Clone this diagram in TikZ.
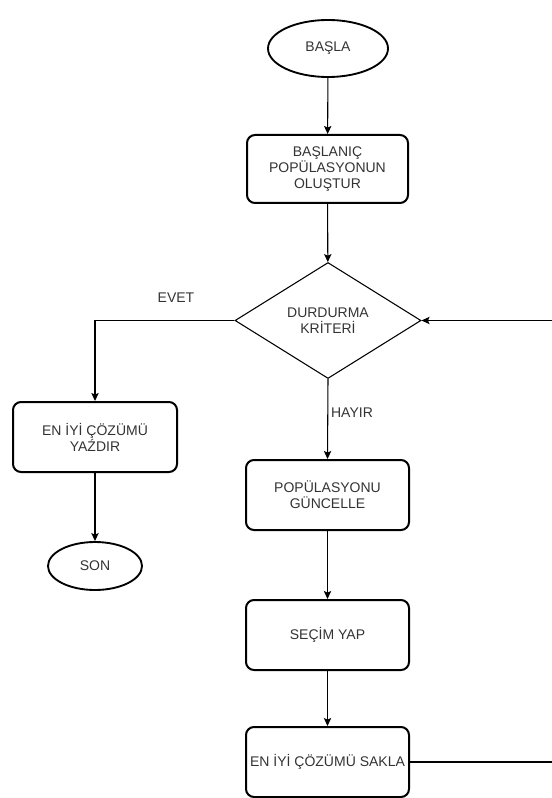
\documentclass[tikz,border=0pt]{standalone}
\usepackage{fontspec}
\setmainfont{Liberation Sans}
\usetikzlibrary{shapes.geometric,arrows.meta}
\definecolor{ink}{HTML}{333333}
\begin{document}
\begin{tikzpicture}[x=0.75pt,y=-0.75pt,
  every node/.style={font=\fontsize{10.5}{12}\selectfont, text=ink, align=center, inner sep=0pt},
  procbox/.style={draw=black, line width=1.5pt, rounded corners=6pt,
    minimum width=122.25pt, minimum height=52.5pt},
  term/.style={draw=black, ellipse, line width=1.4pt},
  decide/.style={draw=black, diamond, line width=0.8pt,
    minimum width=139.5pt, minimum height=87pt},
  arr/.style={draw=black, line width=0.8pt, -{Stealth[length=6pt,width=5.5pt,inset=1.2pt]}},
  lbl/.style={font=\fontsize{10.5}{12}\selectfont, text=ink}]
\useasboundingbox (0,0) rectangle (552,798);
\clip (0,0) rectangle (552,798);

% terminals
\node[term, minimum width=90pt, minimum height=42.75pt] (start) at (328,48.5) {BAŞLA};
\node[term, minimum width=70.5pt, minimum height=36pt] (son) at (95,566) {SON};

% main column
\node[procbox, minimum width=120.75pt, minimum height=51pt] (init) at (327.5,169)
  {BAŞLANIÇ\\POPÜLASYONUN\\OLUŞTUR};
\node[decide] (crit) at (328,320.5) {DURDURMA\\KRİTERİ};
\node[procbox] (update) at (327.5,495) {POPÜLASYONU\\GÜNCELLE};
\node[procbox] (select) at (327.5,635) {SEÇİM YAP};
\node[procbox] (store) at (327.5,762) {EN İYİ ÇÖZÜMÜ SAKLA};

% left branch
\node[procbox, minimum width=123pt] (best) at (95,437) {EN İYİ ÇÖZÜMÜ\\YAŹDIR};

% loop-back column beyond the right edge
\coordinate (loopx) at (562,320.5);

% connectors
\draw[arr] (start) -- (init);
\draw[arr] (init) -- (crit);
\draw[arr] (crit.west) -| (best.north);
\draw[arr] (best) -- (son);
\draw[arr] (crit.south) -- (update.north);
\draw[arr] (update) -- (select);
\draw[arr] (select) -- (store);
\draw[arr] (store.east) -| (loopx) |- (crit.east);

% branch labels
\node[lbl] (yes) at (176,298) {EVET};
\node[lbl] (no) at (352,413) {HAYIR};
\end{tikzpicture}
\end{document}
